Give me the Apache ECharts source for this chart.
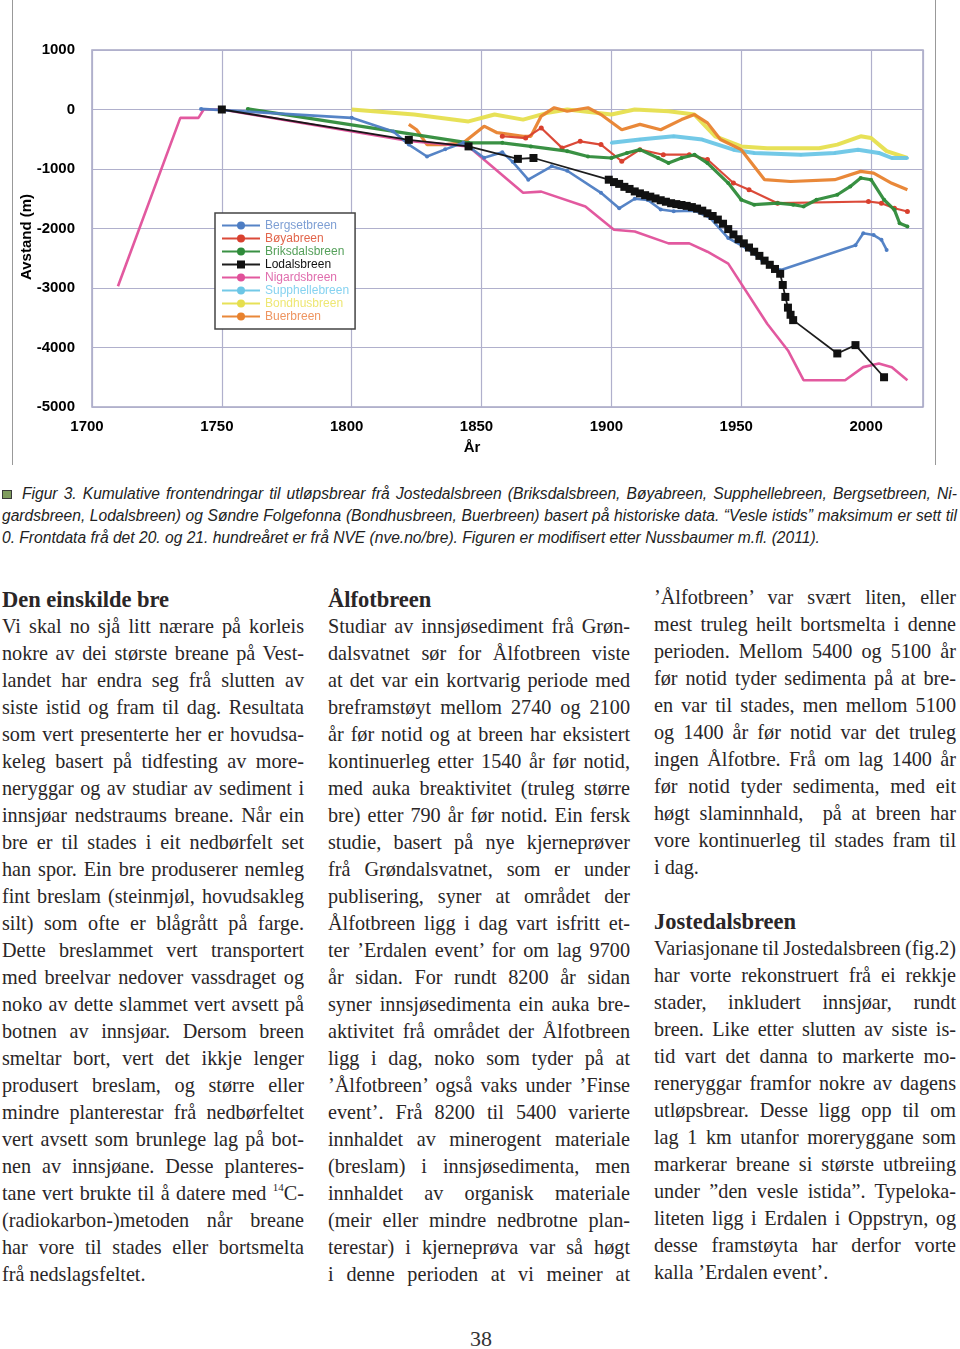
<!DOCTYPE html>
<html><head><meta charset="utf-8">
<script src="https://cdn.jsdelivr.net/npm/echarts@6/dist/echarts.min.js"></script>
<style>
html,body{margin:0;padding:0;background:#fff;width:960px;height:1349px;overflow:hidden;position:relative}
#chart{position:absolute;left:0;top:0;width:960px;height:470px}
.cap{position:absolute;font-family:"Liberation Sans",Arial,sans-serif;font-style:italic;font-size:15.6px;line-height:22px;color:#222;white-space:nowrap}
.col{position:absolute;font-family:"Liberation Serif","Times New Roman",serif;font-size:20.2px;line-height:27px;color:#2a2627;width:302px}
.col div{white-space:nowrap;height:27px}
.col .h{font-weight:bold;font-size:22.5px}
sup{font-size:11px;line-height:0;vertical-align:9px}
#pg{position:absolute;left:461px;top:1326px;width:40px;text-align:center;font-family:"Liberation Serif",serif;font-size:22px;color:#333}
</style></head><body>
<div id="chart"></div>
<div style="position:absolute;left:2px;top:490px;width:8px;height:7px;background:#7f9c5e;border:1px solid #3a3a3a"></div>
<div class="cap j" data-w="935" style="left:22px;top:483px">Figur 3. Kumulative frontendringar til utløpsbrear frå Jostedalsbreen (Briksdalsbreen, Bøyabreen, Supphellebreen, Bergsetbreen, Ni-</div>
<div class="cap j" data-w="955" style="left:2px;top:505px">gardsbreen, Lodalsbreen) og Søndre Folgefonna (Bondhusbreen, Buerbreen) basert på historiske data. “Vesle istids” maksimum er sett til</div>
<div class="cap" style="left:2px;top:527px">0. Frontdata frå det 20. og 21. hundreåret er frå NVE (nve.no/bre). Figuren er modifisert etter Nussbaumer m.fl. (2011).</div>

<div class="col" style="left:2px;top:586px">
<div class="h">Den einskilde bre</div>
<div class="j">Vi skal no sjå litt nærare på korleis</div>
<div class="j">nokre av dei største breane på Vest-</div>
<div class="j">landet har endra seg frå slutten av</div>
<div class="j">siste istid og fram til dag. Resultata</div>
<div class="j">som vert presenterte her er hovudsa-</div>
<div class="j">keleg basert på tidfesting av more-</div>
<div class="j">neryggar og av studiar av sediment i</div>
<div class="j">innsjøar nedstraums breane. Når ein</div>
<div class="j">bre er til stades i eit nedbørfelt set</div>
<div class="j">han spor. Ein bre produserer nemleg</div>
<div class="j">fint breslam (steinmjøl, hovudsakleg</div>
<div class="j">silt) som ofte er blågrått på farge.</div>
<div class="j">Dette breslammet vert transportert</div>
<div class="j">med breelvar nedover vassdraget og</div>
<div class="j">noko av dette slammet vert avsett på</div>
<div class="j">botnen av innsjøar. Dersom breen</div>
<div class="j">smeltar bort, vert det ikkje lenger</div>
<div class="j">produsert breslam, og større eller</div>
<div class="j">mindre planterestar frå nedbørfeltet</div>
<div class="j">vert avsett som brunlege lag på bot-</div>
<div class="j">nen av innsjøane. Desse planteres-</div>
<div class="j">tane vert brukte til å datere med <sup>14</sup>C-</div>
<div class="j">(radiokarbon-)metoden når breane</div>
<div class="j">har vore til stades eller bortsmelta</div>
<div>frå nedslagsfeltet.</div>
</div>

<div class="col" style="left:328px;top:586px">
<div class="h">Ålfotbreen</div>
<div class="j">Studiar av innsjøsediment frå Grøn-</div>
<div class="j">dalsvatnet sør for Ålfotbreen viste</div>
<div class="j">at det var ein kortvarig periode med</div>
<div class="j">breframstøyt mellom 2740 og 2100</div>
<div class="j">år før notid og at breen har eksistert</div>
<div class="j">kontinuerleg etter 1540 år før notid,</div>
<div class="j">med auka breaktivitet (truleg større</div>
<div class="j">bre) etter 790 år før notid. Ein fersk</div>
<div class="j">studie, basert på nye kjerneprøver</div>
<div class="j">frå Grøndalsvatnet, som er under</div>
<div class="j">publisering, syner at området der</div>
<div class="j">Ålfotbreen ligg i dag vart isfritt et-</div>
<div class="j">ter ’Erdalen event’ for om lag 9700</div>
<div class="j">år sidan. For rundt 8200 år sidan</div>
<div class="j">syner innsjøsedimenta ein auka bre-</div>
<div class="j">aktivitet frå området der Ålfotbreen</div>
<div class="j">ligg i dag, noko som tyder på at</div>
<div class="j">’Ålfotbreen’ også vaks under ’Finse</div>
<div class="j">event’. Frå 8200 til 5400 varierte</div>
<div class="j">innhaldet av minerogent materiale</div>
<div class="j">(breslam) i innsjøsedimenta, men</div>
<div class="j">innhaldet av organisk materiale</div>
<div class="j">(meir eller mindre nedbrotne plan-</div>
<div class="j">terestar) i kjerneprøva var så høgt</div>
<div class="j">i denne perioden at vi meiner at</div>
</div>

<div class="col" style="left:654px;top:584px">
<div class="j">’Ålfotbreen’ var svært liten, eller</div>
<div class="j">mest truleg heilt bortsmelta i denne</div>
<div class="j">perioden. Mellom 5400 og 5100 år</div>
<div class="j">før notid tyder sedimenta på at bre-</div>
<div class="j">en var til stades, men mellom 5100</div>
<div class="j">og 1400 år før notid var det truleg</div>
<div class="j">ingen Ålfotbre. Frå om lag 1400 år</div>
<div class="j">før notid tyder sedimenta, med eit</div>
<div class="j">høgt slaminnhald,&nbsp; på at breen har</div>
<div class="j">vore kontinuerleg til stades fram til</div>
<div>i dag.</div>
<div></div>
<div class="h">Jostedalsbreen</div>
<div class="j">Variasjonane til Jostedalsbreen (fig.2)</div>
<div class="j">har vorte rekonstruert frå ei rekkje</div>
<div class="j">stader, inkludert innsjøar, rundt</div>
<div class="j">breen. Like etter slutten av siste is-</div>
<div class="j">tid vart det danna to markerte mo-</div>
<div class="j">reneryggar framfor nokre av dagens</div>
<div class="j">utløpsbrear. Desse ligg opp til om</div>
<div class="j">lag 1 km utanfor moreryggane som</div>
<div class="j">markerar breane si største utbreiing</div>
<div class="j">under ”den vesle istida”. Typeloka-</div>
<div class="j">liteten ligg i Erdalen i Oppstryn, og</div>
<div class="j">desse framstøyta har derfor vorte</div>
<div>kalla ’Erdalen event’.</div>
</div>
<div id="pg">38</div>

<script>
// ---- chart data (year, cumulative front change in m) ----
const seriesNames = ['Bergsetbreen','Bøyabreen','Briksdalsbreen','Lodalsbreen','Nigardsbreen','Supphellebreen','Bondhusbreen','Buerbreen'];
const yTickLabels = ['-5000','-4000','-3000','-2000','-1000','0','1000'];
const xTickLabels = ['1700','1750','1800','1850','1900','1950','2000'];

const bergsetbreen = [[1742,10],[1800,-140],[1816,-370],[1822,-590],[1829,-790],[1836,-670],[1843,-560],[1851,-810],[1858,-720],[1862,-880],[1868,-1180],[1877,-955],[1883,-1030],[1896,-1400],[1903,-1660],[1909,-1500],[1914,-1520],[1919,-1680],[1924,-1710],[1932,-1700],[1938,-1820],[1945,-2160],[1952,-2330],[1958,-2530],[1965,-2700],[1994,-2280],[1997,-2080],[2001,-2110],[2004,-2190],[2006,-2360]];
const boyabreen = [[1858,-450],[1867,-480],[1873,-310],[1881,-645],[1888,-535],[1896,-590],[1904,-870],[1911,-675],[1920,-760],[1930,-760],[1937,-840],[1947,-1236],[1953,-1350],[1964,-1575],[1999,-1546],[2004,-1575],[2009,-1660],[2014,-1715]];
const briksdalsbreen = [[1760,10],[1845,-560],[1858,-560],[1869,-620],[1883,-700],[1891,-790],[1900,-815],[1906,-730],[1911,-675],[1918,-815],[1922,-900],[1927,-815],[1932,-760],[1937,-900],[1945,-1236],[1950,-1517],[1955,-1600],[1964,-1575],[1970,-1600],[1974,-1630],[1979,-1517],[1987,-1433],[1992,-1293],[1996,-1152],[2000,-1180],[2005,-1517],[2009,-1686],[2011,-1911],[2014,-1967]];
const lodalsbreen = [[1750,0],[1822,-510],[1845,-620],[1864,-830],[1870,-815],[1899,-1180],[1901,-1220],[1903,-1250],[1905,-1300],[1907,-1335],[1909,-1377],[1911,-1410],[1913,-1440],[1915,-1465],[1917,-1495],[1919,-1525],[1921,-1550],[1923,-1575],[1925,-1590],[1927,-1605],[1929,-1620],[1931,-1640],[1933,-1665],[1935,-1700],[1937,-1745],[1939,-1790],[1941,-1850],[1943,-1920],[1945,-2010],[1947,-2100],[1949,-2180],[1951,-2250],[1953,-2320],[1955,-2390],[1957,-2460],[1959,-2540],[1961,-2610],[1963,-2680],[1965,-2760],[1966,-2950],[1967,-3150],[1968,-3330],[1969,-3450],[1970,-3540],[1987,-4100],[1994,-3960],[2005,-4500]];
const nigardsbreen = [[1710,-2970],[1734,-140],[1741,-140],[1743,0],[1750,0],[1822,-530],[1845,-620],[1866,-1400],[1873,-1380],[1890,-1630],[1901,-2020],[1909,-2050],[1922,-2250],[1930,-2250],[1937,-2390],[1945,-2590],[1960,-3600],[1968,-4050],[1974,-4550],[1990,-4550],[1997,-4330],[2003,-4270],[2008,-4330],[2014,-4550]];
const supphellebreen = [[1900,-560],[1911,-505],[1924,-450],[1935,-505],[1947,-675],[1955,-730],[1973,-760],[1986,-730],[1995,-675],[2003,-730],[2008,-815],[2014,-815]];
const bondhusbreen = [[1800,0],[1824,-85],[1845,-200],[1855,-85],[1866,-170],[1875,-60],[1883,0],[1900,-85],[1909,0],[1922,-30],[1932,-85],[1940,-450],[1950,-620],[1960,-650],[1980,-650],[1987,-590],[1996,-450],[2000,-480],[2006,-700],[2014,-815]];
const buerbreen = [[1822,-250],[1825,-340],[1829,-590],[1836,-590],[1843,-560],[1851,-280],[1856,-390],[1866,-450],[1869,-450],[1873,-110],[1878,30],[1883,-30],[1891,30],[1896,-85],[1904,-340],[1911,-250],[1919,-340],[1927,-170],[1932,-85],[1937,-225],[1942,-505],[1950,-675],[1959,-1180],[1969,-1210],[1986,-1180],[1996,-1040],[2001,-1070],[2008,-1240],[2014,-1350]];

const colors = {Bergsetbreen:'#4d7dc3',Bøyabreen:'#d9402e',Briksdalsbreen:'#2f8b3a',Lodalsbreen:'#111111',Nigardsbreen:'#e0509a',Supphellebreen:'#6cc6e6',Bondhusbreen:'#e6df4e',Buerbreen:'#e8822e'};
const legendText = {Bergsetbreen:'#7e9fd4',Bøyabreen:'#e2664c',Briksdalsbreen:'#55a05a',Lodalsbreen:'#111',Nigardsbreen:'#e06eae',Supphellebreen:'#86d2f0',Bondhusbreen:'#eee774',Buerbreen:'#ee9560'};

function mk(name, data, width, symbol, size, z){
  return {name, type:'line', data, z, color:colors[name], smooth:false,
    symbol: symbol||'none', symbolSize:size||0, showSymbol: !!symbol,
    lineStyle:{width, color:colors[name], opacity:0.95},
    itemStyle:{color:colors[name]}, emphasis:{disabled:true}, animation:false};
}

const chart = echarts.init(document.getElementById('chart'), null, {renderer:'canvas'});
chart.setOption({
  animation:false,
  grid:{left:92, right:37, top:50, height:357, show:true, borderColor:'#a6a6c4', borderWidth:1.5, backgroundColor:'#fff'},
  xAxis:{type:'value', min:1700, max:2020, interval:50,
    axisLine:{show:false}, axisTick:{show:false},
    splitLine:{show:true, lineStyle:{color:'#b0b0cc', width:1.2}},
    axisLabel:{margin:12, padding:[0,10,0,0], color:'#000', fontWeight:'bold', fontSize:15, fontFamily:'Liberation Sans',
      showMaxLabel:false,
      formatter:v=>{const s=String(v); return xTickLabels.includes(s)?s:'';}}},
  yAxis:{type:'value', min:-5000, max:1000, interval:1000,
    axisLine:{show:false}, axisTick:{show:false},
    splitLine:{show:true, lineStyle:{color:'#b0b0cc', width:1.2}},
    axisLabel:{margin:17, color:'#000', fontWeight:'bold', fontSize:15, fontFamily:'Liberation Sans', padding:[0,0,3,0],
      formatter:v=>{const s=String(v); return yTickLabels.includes(s)?s:'';}}},
  legend:{orient:'vertical', left:215, top:213, padding:[6,6,6,6], itemGap:0, itemWidth:38, itemHeight:10,
    borderColor:'#444', borderWidth:1.5, backgroundColor:'#fff', selectedMode:false,
    textStyle:{fontSize:12, lineHeight:13, fontFamily:'Liberation Sans'},
    data: seriesNames.map(n=>({name:n, textStyle:{color:legendText[n]}}))},
  graphic:[
    {type:'line', shape:{x1:12.5,y1:0,x2:12.5,y2:465}, style:{stroke:'#999', lineWidth:1}},
    {type:'line', shape:{x1:935.5,y1:0,x2:935.5,y2:465}, style:{stroke:'#999', lineWidth:1}},
    {type:'text', x:27, y:237, rotation:Math.PI/2, style:{text:'Avstand (m)', fill:'#000', font:'bold 15px "Liberation Sans"', textAlign:'center', textVerticalAlign:'middle'}},
    {type:'text', x:472, y:448, style:{text:'År', fill:'#000', font:'bold 15px "Liberation Sans"', textAlign:'center', textVerticalAlign:'middle'}}
  ],
  series:[
    mk('Bondhusbreen', bondhusbreen, 4, null, 0, 2),
    mk('Supphellebreen', supphellebreen, 4, 'circle', 3, 3),
    mk('Buerbreen', buerbreen, 3.2, null, 0, 4),
    mk('Bøyabreen', boyabreen, 2.2, 'circle', 5, 5),
    mk('Briksdalsbreen', briksdalsbreen, 3.2, 'circle', 4, 6),
    mk('Nigardsbreen', nigardsbreen, 2.6, null, 0, 7),
    mk('Bergsetbreen', bergsetbreen, 2.6, 'circle', 4, 8),
    mk('Lodalsbreen', lodalsbreen, 1.8, 'rect', 8, 9)
  ]
});

// justify text lines to exact column width
document.querySelectorAll('.j').forEach(el=>{
  const W = el.dataset.w ? +el.dataset.w : 302;
  const span = document.createElement('span');
  span.style.whiteSpace='nowrap';
  while(el.firstChild) span.appendChild(el.firstChild);
  el.appendChild(span);
  const w = span.getBoundingClientRect().width;
  const n = (span.textContent.match(/[ \u00a0]/g)||[]).length;
  if(n>0) span.style.wordSpacing = ((W - w)/n) + 'px';
});
document.querySelectorAll('.col > div:not(.j), .cap:not(.j)').forEach(el=>{
  const W = el.classList.contains('cap') ? 955 : 302;
  if(el.scrollWidth > W){ el.style.letterSpacing = (-(el.scrollWidth-W)/el.textContent.length)+'px'; }
});
</script>
</body></html>
